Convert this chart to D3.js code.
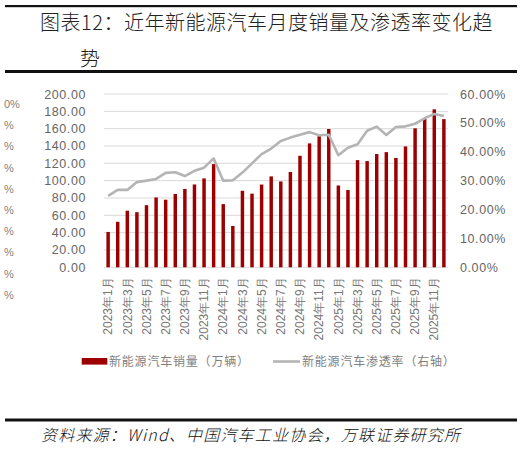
<!DOCTYPE html>
<html>
<head>
<meta charset="utf-8">
<script src="https://cdn.jsdelivr.net/npm/d3@7/dist/d3.min.js"></script>
<style>
  html, body { margin: 0; padding: 0; background: #fff; }
  svg { display: block; }
</style>
</head>
<body>
<svg id="chart" width="531" height="450"></svg>
<script>
// ---- data ----
const months = [
  "2023年1月","2023年2月","2023年3月","2023年4月","2023年5月","2023年6月",
  "2023年7月","2023年8月","2023年9月","2023年10月","2023年11月","2023年12月",
  "2024年1月","2024年2月","2024年3月","2024年4月","2024年5月","2024年6月",
  "2024年7月","2024年8月","2024年9月","2024年10月","2024年11月","2024年12月",
  "2025年1月","2025年2月","2025年3月","2025年4月","2025年5月","2025年6月",
  "2025年7月","2025年8月","2025年9月","2025年10月","2025年11月","2025年12月"
];
const sales = [
  40.8, 52.5, 65.3, 63.6, 71.7, 80.6, 78.0, 84.6, 90.4, 95.6, 102.6, 119.1,
  72.9, 47.7, 88.3, 85.0, 95.5, 104.9, 99.1, 110.0, 128.7, 143.0, 151.2, 159.6,
  94.4, 89.2, 123.7, 122.6, 130.7, 132.9, 126.2, 139.5, 160.4, 171.5, 182.3, 171.0
];
const penetration = [
  0.247, 0.268, 0.268, 0.295, 0.300, 0.306, 0.327, 0.329, 0.316, 0.334, 0.345, 0.377,
  0.300, 0.301, 0.328, 0.360, 0.392, 0.411, 0.437, 0.449, 0.459, 0.468, 0.457, 0.459,
  0.388, 0.414, 0.426, 0.473, 0.487, 0.458, 0.486, 0.488, 0.497, 0.516, 0.531, 0.524
];
const labeledMonths = months.filter((d, i) => i % 2 === 0);
const leftTicks = [0, 20, 40, 60, 80, 100, 120, 140, 160, 180, 200];
const rightTicks = [0, 0.1, 0.2, 0.3, 0.4, 0.5, 0.6];
const clippedLabels = ["0%", "%", "%", "%", "%", "%", "%", "%", "%", "%"];
const titleLine1 = "图表12：近年新能源汽车月度销量及渗透率变化趋";
const titleLine2 = "势";
const legendSales = "新能源汽车销量（万辆）";
const legendPen = "新能源汽车渗透率（右轴）";
const sourceText = "资料来源：Wind、中国汽车工业协会，万联证券研究所";

// ---- layout ----
const svg = d3.select("#chart");
const plot = { left: 104, right: 448, top: 94, bottom: 267.3 };
const cjk = "'Noto Sans CJK SC', 'Noto Sans', sans-serif";
const sans = "'Liberation Sans', Arial, sans-serif";

const x = d3.scaleBand().domain(months).range([plot.left, plot.right]).paddingInner(0.64).paddingOuter(0.25);
const yL = d3.scaleLinear().domain([0, 200]).range([plot.bottom, plot.top]);
const yR = d3.scaleLinear().domain([0, 0.6]).range([plot.bottom, plot.top]);

// rules
svg.append("rect").attr("x", 5).attr("y", 5).attr("width", 512).attr("height", 2.2).attr("fill", "#111");
svg.append("rect").attr("x", 5).attr("y", 70).attr("width", 512).attr("height", 3).attr("fill", "#111");
svg.append("rect").attr("x", 5).attr("y", 418.5).attr("width", 512).attr("height", 3).attr("fill", "#111");

// title
svg.append("text").attr("x", 40).attr("y", 30)
  .attr("font-family", cjk).attr("font-size", 20).attr("font-weight", 300).attr("letter-spacing", 0.5)
  .attr("fill", "#222").text(titleLine1);
svg.append("text").attr("x", 80).attr("y", 66)
  .attr("font-family", cjk).attr("font-size", 20).attr("font-weight", 300)
  .attr("fill", "#222").text(titleLine2);

// clipped artifact labels on far left
const artY = d3.scaleLinear().domain([0, clippedLabels.length - 1]).range([104, 295]);
svg.append("g").selectAll("text").data(clippedLabels).join("text")
  .attr("x", 4).attr("y", (d, i) => artY(i)).attr("dy", "0.35em")
  .attr("font-family", sans).attr("font-size", 11).attr("fill", "#7f7f7f")
  .text(d => d);

// gridlines
svg.append("g").selectAll("line").data(leftTicks).join("line")
  .attr("x1", plot.left).attr("x2", plot.right)
  .attr("y1", d => yL(d)).attr("y2", d => yL(d))
  .attr("stroke", "#d9d9d9").attr("stroke-width", 1);

// left axis
const leftAxis = d3.axisLeft(yL).tickValues(leftTicks).tickFormat(d3.format(".2f")).tickSize(0).tickPadding(0);
const gL = svg.append("g").attr("transform", `translate(86,0)`).call(leftAxis);
gL.select(".domain").remove();
gL.selectAll("text").attr("font-family", sans).attr("font-size", 12.5).attr("letter-spacing", 0.6).attr("fill", "#666");

// right axis
const rightAxis = d3.axisRight(yR).tickValues(rightTicks).tickFormat(d3.format(".2%")).tickSize(0).tickPadding(0);
const gR = svg.append("g").attr("transform", `translate(460,0)`).call(rightAxis);
gR.select(".domain").remove();
gR.selectAll("text").attr("font-family", sans).attr("font-size", 12.5).attr("letter-spacing", 0.6).attr("fill", "#666");

// bars
svg.append("g").selectAll("rect").data(months).join("rect")
  .attr("x", d => x(d)).attr("width", x.bandwidth())
  .attr("y", (d, i) => yL(sales[i])).attr("height", (d, i) => yL(0) - yL(sales[i]))
  .attr("fill", "#9c0000");

// line
const line = d3.line().x((d, i) => x(months[i]) + x.bandwidth() / 2).y(d => yR(d));
svg.append("path").datum(penetration).attr("d", line)
  .attr("fill", "none").attr("stroke", "#b4b4b4").attr("stroke-width", 2.6).attr("stroke-linejoin", "round");

// x axis labels
const xAxis = d3.axisBottom(x).tickValues(labeledMonths).tickSize(0).tickPadding(0);
const gX = svg.append("g").attr("transform", `translate(0,${plot.bottom})`).call(xAxis);
gX.select(".domain").remove();
gX.selectAll("text")
  .attr("font-family", sans).attr("font-size", 12).attr("fill", "#777")
  .attr("text-anchor", "end")
  .attr("transform", "translate(0,10) rotate(-90)")
  .attr("x", 0).attr("y", 0).attr("dy", "0.35em");

// legend
svg.append("rect").attr("x", 81.7).attr("y", 358).attr("width", 25.6).attr("height", 6.6).attr("fill", "#9c0000");
svg.append("text").attr("x", 109).attr("y", 366)
  .attr("font-family", cjk).attr("font-size", 12).attr("letter-spacing", 0.8).attr("fill", "#7f7f7f")
  .text(legendSales);
svg.append("line").attr("x1", 273).attr("x2", 300).attr("y1", 361.5).attr("y2", 361.5)
  .attr("stroke", "#b4b4b4").attr("stroke-width", 2.6);
svg.append("text").attr("x", 302).attr("y", 366)
  .attr("font-family", cjk).attr("font-size", 12).attr("letter-spacing", 0.8).attr("fill", "#7f7f7f")
  .text(legendPen);

// source
svg.append("text").attr("x", 41).attr("y", 441)
  .attr("font-family", cjk).attr("font-size", 16).attr("font-weight", 300).attr("font-style", "italic").attr("letter-spacing", 1.2)
  .attr("fill", "#111").text(sourceText);
</script>
</body>
</html>
